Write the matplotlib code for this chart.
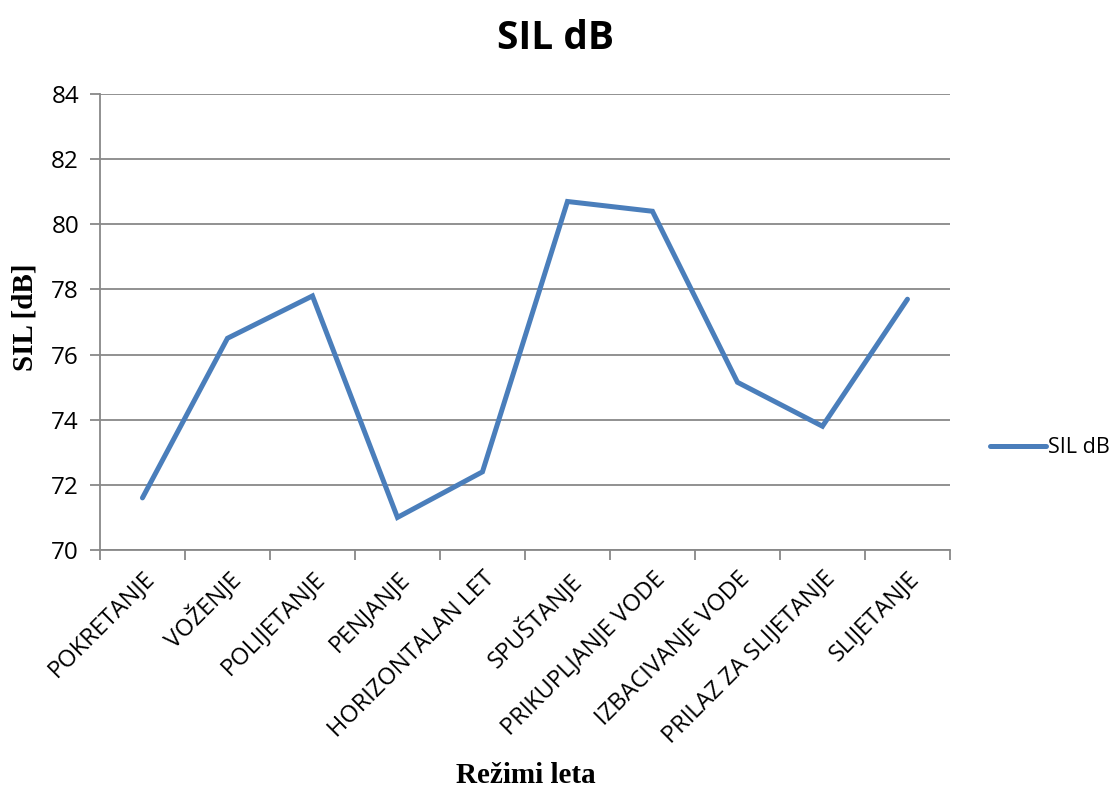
import matplotlib.pyplot as plt

rezimi = ['POKRETANJE', 'VOŽENJE', 'POLIJETANJE', 'PENJANJE', 'HORIZONTALAN LET',
          'SPUŠTANJE', 'PRIKUPLJANJE VODE', 'IZBACIVANJE VODE', 'PRILAZ ZA SLIJETANJE',
          'SLIJETANJE']
sil_db = [71.6, 76.5, 77.8, 71.0, 72.4, 80.7, 80.4, 75.15, 73.8, 77.7]
y_ticks = [70, 72, 74, 76, 78, 80, 82, 84]

plt.rcParams['font.family'] = ['Open Sans', 'DejaVu Sans']

fig = plt.figure(figsize=(11.18, 7.94), dpi=100)
ax = fig.add_axes([0.0894, 0.3073, 0.7603, 0.5743])

x = list(range(len(rezimi)))
linija, = ax.plot(x, sil_db, color='#4a7ebb', lw=3.6, solid_capstyle='round',
                  solid_joinstyle='miter', label='SIL dB', zorder=3)

ax.set_xlim(-0.5, len(rezimi) - 0.5)
ax.set_ylim(70, 84)
ax.set_yticks(y_ticks)
ax.set_yticklabels([str(v) for v in y_ticks], fontsize=17.5)
ax.grid(axis='y', color='#888888', lw=1.3)
ax.set_axisbelow(True)

# kategorije - oznake u sredini, crtice na granicama
ax.set_xticks(x)
ax.set_xticklabels(rezimi, rotation=45, ha='right', rotation_mode='anchor', fontsize=17)
ax.tick_params(axis='x', length=0, pad=12)
ax.set_xticks([i - 0.5 for i in range(len(rezimi) + 1)], minor=True)
ax.tick_params(axis='x', which='minor', length=7, width=1.3, color='#888888')
ax.tick_params(axis='y', length=7, width=1.3, color='#888888', pad=8)

for s in ['top', 'right']:
    ax.spines[s].set_visible(False)
for s in ['left', 'bottom']:
    ax.spines[s].set_color('#888888')
    ax.spines[s].set_linewidth(1.3)

fig.text(0.497, 0.952, 'SIL dB', ha='center', va='center', fontsize=28, weight='bold')
fig.text(0.47, 0.023, 'Režimi leta', ha='center', va='center', fontsize=21,
         weight='bold', family='Liberation Serif')
fig.text(0.022, 0.6, 'SIL [dB]', ha='center', va='center', fontsize=21,
         weight='bold', family='Liberation Serif', rotation=90)

fig.legend(handles=[linija], loc='center left', bbox_to_anchor=(0.8855, 0.436),
           frameon=False, fontsize=15.5, handlelength=2.6, handletextpad=0.1,
           borderpad=0, borderaxespad=0)

fig.savefig('out.png', dpi=100)
